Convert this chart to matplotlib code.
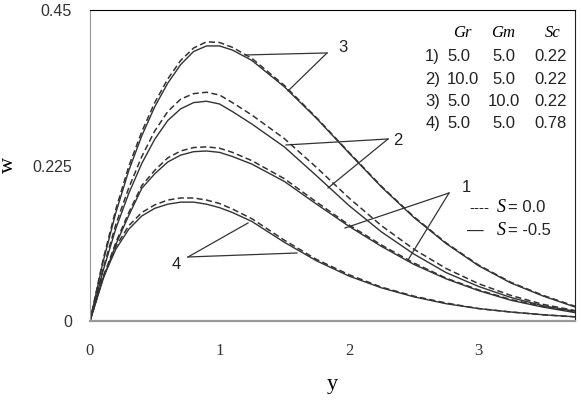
import numpy as np
import matplotlib
matplotlib.use("Agg")
import matplotlib.pyplot as plt

plt.rcParams['font.family'] = ['Liberation Sans', 'DejaVu Sans']

# значения y (общая сетка для всех кривых)
y = [0, 0.1, 0.2, 0.3, 0.4, 0.5, 0.6, 0.7, 0.8, 0.9, 1.0, 1.1, 1.25,
     1.5, 1.75, 2.0, 2.25, 2.5, 2.75, 3.0, 3.25, 3.5, 3.75]

# S = 0.0 (штриховые)
w1_s0 = [0, 0.062, 0.114, 0.157, 0.196, 0.218, 0.236, 0.246, 0.251, 0.252, 0.250, 0.244, 0.232,
         0.206, 0.172, 0.139, 0.110, 0.084, 0.062, 0.045, 0.031, 0.021, 0.013]
w2_s0 = [0, 0.075, 0.140, 0.193, 0.238, 0.275, 0.303, 0.321, 0.329, 0.331, 0.327, 0.316, 0.298,
         0.264, 0.222, 0.178, 0.138, 0.104, 0.076, 0.054, 0.037, 0.024, 0.015]
w3_s0 = [0, 0.088, 0.162, 0.224, 0.274, 0.316, 0.350, 0.377, 0.395, 0.404, 0.403, 0.396, 0.380,
         0.341, 0.294, 0.244, 0.195, 0.151, 0.113, 0.081, 0.056, 0.037, 0.021]
w4_s0 = [0, 0.064, 0.108, 0.138, 0.157, 0.168, 0.175, 0.178, 0.178, 0.175, 0.170, 0.162, 0.148,
         0.117, 0.089, 0.067, 0.049, 0.036, 0.026, 0.018, 0.013, 0.009, 0.006]

# S = -0.5 (сплошные)
w1_s5 = [0, 0.060, 0.111, 0.153, 0.192, 0.213, 0.230, 0.240, 0.245, 0.246, 0.244, 0.238, 0.227,
         0.202, 0.169, 0.137, 0.108, 0.082, 0.061, 0.044, 0.030, 0.020, 0.012]
w2_s5 = [0, 0.072, 0.134, 0.185, 0.228, 0.263, 0.290, 0.307, 0.316, 0.318, 0.314, 0.303, 0.285,
         0.252, 0.210, 0.167, 0.129, 0.097, 0.070, 0.050, 0.034, 0.022, 0.014]
w3_s5 = [0, 0.085, 0.157, 0.218, 0.268, 0.310, 0.344, 0.371, 0.390, 0.398, 0.398, 0.392, 0.377,
         0.339, 0.293, 0.243, 0.194, 0.150, 0.112, 0.080, 0.055, 0.036, 0.020]
w4_s5 = [0, 0.062, 0.104, 0.133, 0.152, 0.163, 0.169, 0.172, 0.172, 0.169, 0.164, 0.157, 0.144,
         0.114, 0.087, 0.065, 0.048, 0.035, 0.025, 0.018, 0.013, 0.009, 0.006]

# таблица параметров
rows = ["1)", "2)", "3)", "4)"]
gr = ["5.0", "10.0", "5.0", "5.0"]
gm = ["5.0", "5.0", "10.0", "5.0"]
sc = ["0.22", "0.22", "0.22", "0.78"]

fig = plt.figure(figsize=(5.81, 4.0), dpi=100)
ax = fig.add_axes([90/581, 79/400, 485/581, 311/400])

dash = (0, (4, 2.2))
for w in [w1_s0, w2_s0, w3_s0, w4_s0]:
    ax.plot(y, w, color='#333333', lw=1.1, linestyle=dash)
for w in [w1_s5, w2_s5, w3_s5, w4_s5]:
    ax.plot(y, w, color='#333333', lw=1.0)

ax.set_xlim(0, 3.745)
ax.set_ylim(0, 0.45)
ax.set_yticks([0, 0.225, 0.45])
ax.set_yticklabels(["0", "0.225", "0.45"])
ax.set_xticks([0, 1, 2, 3])
ax.tick_params(axis='y', length=0, pad=13, labelsize=11.5, colors='#333333')
ax.tick_params(axis='x', length=0, pad=16, labelsize=12, colors='#333333')
for lab in ax.get_xticklabels():
    lab.set_family('Liberation Serif')

ax.spines['left'].set_color('#999999')
ax.spines['bottom'].set_color('#999999')
ax.spines['bottom'].set_linewidth(1.6)
ax.spines['top'].set_color('black')
ax.spines['right'].set_color('#222222')

ax.set_xlabel("y", family='Liberation Serif', fontsize=16, labelpad=11)
fig.text(8/581, 1 - 165/400, "w", family='Liberation Serif', fontsize=16,
         rotation=90, ha='center', va='center')

# подписи кривых с выносками
def px(xp, yp):
    return (xp - 90) / 129.5, (321 - yp) / 691

callouts = [("3", (343, 48), (327, 53), [(245, 55), (288, 91)]),
            ("2", (398, 141), (388, 139), [(286, 145), (328, 188)]),
            ("1", (466, 188), (449, 193), [(345, 228), (408, 260)]),
            ("4", (176, 265), (188, 257), [(248, 223), (297, 253)])]
for lab, tpos, vtx, ends in callouts:
    tx, ty = px(*tpos)
    ax.text(tx, ty, lab, fontsize=12, ha='center', va='center', color='#222222')
    vx, vy = px(*vtx)
    for e in ends:
        ex, ey = px(*e)
        ax.plot([vx, ex], [vy, ey], color='#333333', lw=0.9)

# таблица
hx = [462, 503, 553]
for h, x0 in zip(["Gr", "Gm", "Sc"], hx):
    ax.text(*px(x0, 33), h, family='Liberation Serif', style='italic', fontsize=12,
            ha='center', va='center')
row_y = [57, 80, 102, 124]
for r, a, b, c, yp in zip(rows, gr, gm, sc, row_y):
    ax.text(*px(440, yp), r, fontsize=12, ha='right', va='center', color='#222222')
    ax.text(*px(447, yp), a, fontsize=12, ha='left', va='center', color='#222222')
    ax.text(*px(504, yp), b, fontsize=12, ha='center', va='center', color='#222222')
    ax.text(*px(567, yp), c, fontsize=12, ha='right', va='center', color='#222222')

# легенда
ax.text(*px(469, 208), "----", fontsize=11, ha='left', va='center', color='#222222')
ax.text(*px(467, 231), "\u2014", fontsize=12, ha='left', va='center', color='#222222')
for yp, val in [(208, "0.0"), (231, "-0.5")]:
    ax.text(*px(497, yp), "S", family='Liberation Serif', style='italic', fontsize=13,
            ha='left', va='center')
    ax.text(*px(508, yp), "= " + val, fontsize=12, ha='left', va='center', color='#222222')

fig.savefig("out.png", dpi=100)
